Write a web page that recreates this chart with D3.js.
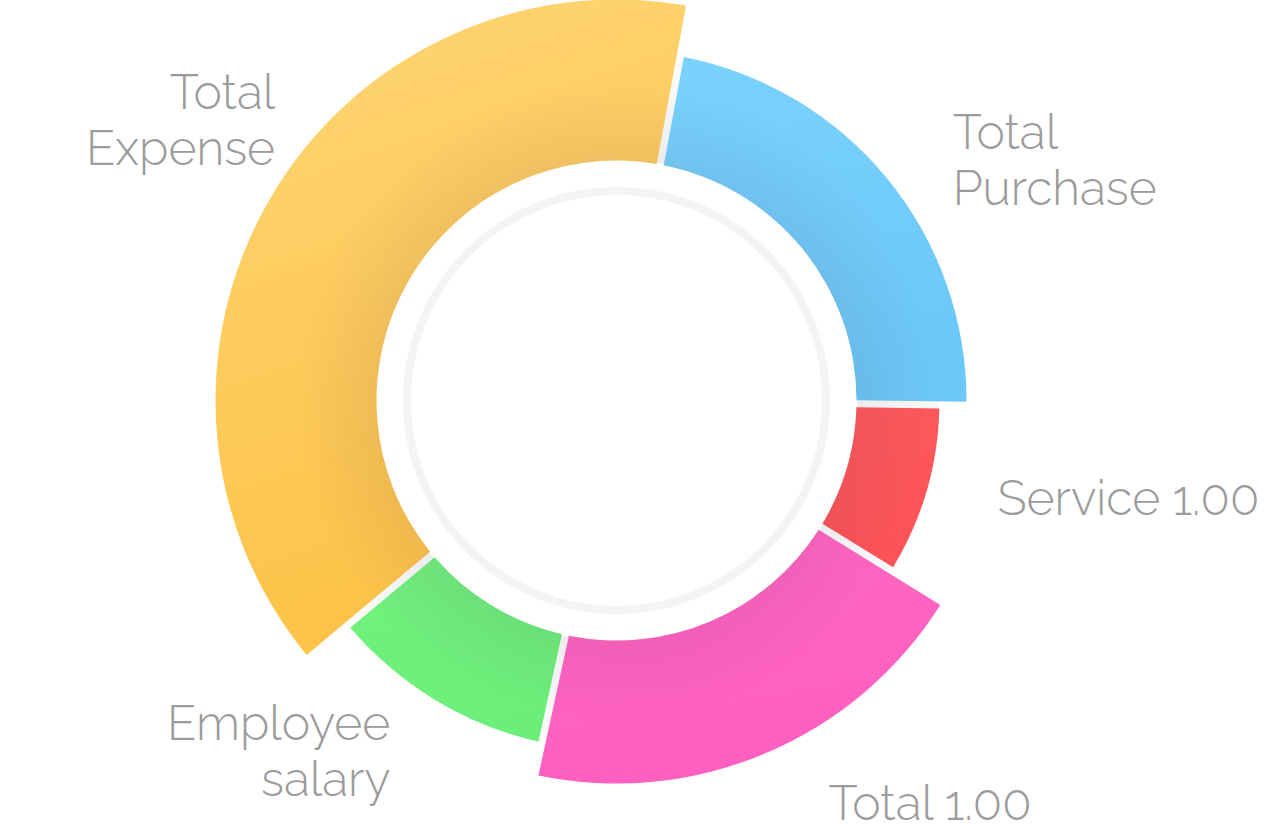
<!DOCTYPE html>
<html>
<head>
<meta charset="utf-8">
<script src="https://cdn.jsdelivr.net/npm/d3@7"></script>
<style>
  html, body { margin: 0; background: #fff; }
  svg { display: block; }
</style>
</head>
<body>
<svg id="chart" width="1272" height="824"></svg>
<script>
// slices, clockwise from the top
var categories = ['Total Purchase', 'Service', 'Total', 'Employee salary', 'Total Expense'];
var labelLines = [['Total', 'Purchase'], ['Service 1.00'], ['Total 1.00'], ['Employee', 'salary'], ['Total', 'Expense']];
var shareValues = [22.3, 8.6, 19.6, 10.5, 39.0];   // angle share
var radiusValues = [110, 83, 143, 110, 161];        // drives outer radius
var baseColors = ['#6cc8f8', '#fd5358', '#ff5fc0', '#6cef7a', '#fdc246'];
var lightColors = ['#7ad2fe', '#ff5a5c', '#ff68c2', '#72f17e', '#fed676'];

var width = 1272, height = 824;
var cx = 616.5, cy = 400.5;
var innerR = 240, maxR = 401, ringR = 209.5;
var startDeg = 10.5;

// label placement: mid angle, a bit out from the slice, then hand nudged
var labelGap = 50;
var labelNudge = [[27, 13], [23, -7], [43, 4], [-19, 8], [48, -53]];

var svg = d3.select('#chart');
var defs = svg.append('defs');

categories.forEach(function(c, i) {
  var g = defs.append('linearGradient')
    .attr('id', 'fill' + i)
    .attr('x1', 0).attr('y1', 0).attr('x2', 0.25).attr('y2', 1);
  g.append('stop').attr('offset', 0).attr('stop-color', lightColors[i]);
  g.append('stop').attr('offset', 1).attr('stop-color', baseColors[i]);
});

// darkening toward the hole, used on the slices
var shade = defs.append('radialGradient')
  .attr('id', 'innerShade')
  .attr('gradientUnits', 'userSpaceOnUse')
  .attr('cx', 0).attr('cy', 0).attr('r', maxR);
shade.append('stop').attr('offset', innerR / maxR).attr('stop-color', '#40204a').attr('stop-opacity', 0.075);
shade.append('stop').attr('offset', 0.8).attr('stop-color', '#40204a').attr('stop-opacity', 0);

// faint grey that shows in the gaps between slices
var gapShade = defs.append('radialGradient')
  .attr('id', 'gapShade')
  .attr('gradientUnits', 'userSpaceOnUse')
  .attr('cx', 0).attr('cy', 0).attr('r', maxR);
gapShade.append('stop').attr('offset', innerR / maxR).attr('stop-color', '#ececec');
gapShade.append('stop').attr('offset', 0.9).attr('stop-color', '#ffffff');

var rScale = d3.scaleLinear()
  .domain([0, d3.max(radiusValues)])
  .range([innerR, maxR]);

var slices = categories.map(function(c, i) {
  return {name: c, value: shareValues[i], radius: radiusValues[i], index: i};
});

var start = startDeg * Math.PI / 180;
var pie = d3.pie()
  .sort(null)
  .value(d => d.value)
  .startAngle(start)
  .endAngle(start + 2 * Math.PI);

var arc = d3.arc()
  .innerRadius(innerR)
  .outerRadius(d => rScale(d.data.radius))
  .padAngle(0.018)
  .padRadius(400);

var root = svg.append('g').attr('transform', `translate(${cx},${cy})`);

root.append('circle')
  .attr('r', ringR)
  .attr('fill', 'none')
  .attr('stroke', '#f4f4f4')
  .attr('stroke-width', 8);

var arcs = pie(slices);

// backing band under each slice, unpadded, so the gaps look shaded
var backArc = d3.arc()
  .innerRadius(innerR + 1)
  .outerRadius(d => Math.min(rScale(d.data.radius), rScale(d.next)) - 1);

root.selectAll('.gap')
  .data(arcs.map(function(d, i) {
    var n = arcs[(i + 1) % arcs.length];
    var a = d.endAngle;
    return {startAngle: a - 0.03, endAngle: a + 0.03, data: d.data, next: n.data.radius};
  }))
  .enter().append('path')
  .attr('class', 'gap')
  .attr('d', backArc)
  .attr('fill', 'url(#gapShade)');

var slice = root.selectAll('.slice')
  .data(arcs)
  .enter().append('g')
  .attr('class', 'slice');

slice.append('path')
  .attr('d', arc)
  .attr('fill', d => 'url(#fill' + d.index + ')');

slice.append('path')
  .attr('d', arc)
  .attr('fill', 'url(#innerShade)');

// labels
var fontSize = 48, lineH = 56, capH = 0.71 * fontSize;
root.selectAll('.label')
  .data(arcs)
  .enter().append('text')
  .attr('class', 'label')
  .attr('font-family', 'Raleway, Lato, sans-serif')
  .attr('font-weight', 300)
  .attr('font-size', fontSize)
  .attr('fill', '#9b9b9b')
  .each(function(d, i) {
    var mid = (d.startAngle + d.endAngle) / 2;
    var r = rScale(d.data.radius) + labelGap;
    var x = r * Math.sin(mid) + labelNudge[i][0];
    var y = -r * Math.cos(mid) + labelNudge[i][1];
    var lines = labelLines[i];
    var right = Math.sin(mid) > 0;
    var y0 = y - (lines.length - 1) * lineH / 2 + capH / 2;
    var t = d3.select(this).attr('text-anchor', right ? 'start' : 'end');
    lines.forEach(function(s, k) {
      t.append('tspan').attr('x', x).attr('y', y0 + k * lineH).text(s);
    });
  });
</script>
</body>
</html>
